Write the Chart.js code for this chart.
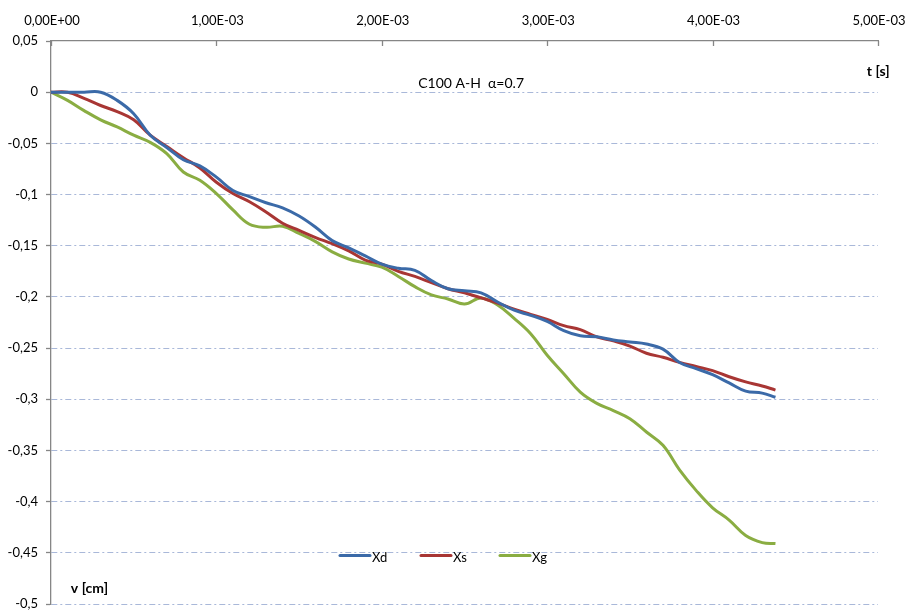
<!DOCTYPE html>
<html>
<head>
<meta charset="utf-8">
<script src="https://cdn.jsdelivr.net/npm/chart.js@4/dist/chart.umd.min.js"></script>
<style>
  html, body { margin: 0; padding: 0; background: #ffffff; }
  #wrap { width: 908px; height: 610px; }
</style>
</head>
<body>
<div id="wrap"><canvas id="c" width="908" height="610"></canvas></div>
<script>
// time samples [s]
const times = [
  0, 0.0001, 0.0002, 0.0003, 0.0004, 0.0005, 0.0006, 0.0007, 0.0008, 0.0009,
  0.0010, 0.0011, 0.0012, 0.0013, 0.0014, 0.0015, 0.0016, 0.0017, 0.0018, 0.0019,
  0.0020, 0.0021, 0.0022, 0.0023, 0.0024, 0.0025, 0.0026, 0.0027, 0.0028, 0.0029,
  0.0030, 0.0031, 0.0032, 0.0033, 0.0034, 0.0035, 0.0036, 0.0037, 0.0038, 0.0039,
  0.0040, 0.0041, 0.0042, 0.0043, 0.00438
];

// displacement v [cm]
const xd = [
  0, 0, 0, 0, -0.008, -0.021, -0.042, -0.054, -0.066, -0.072,
  -0.083, -0.096, -0.102, -0.108, -0.113, -0.121, -0.132, -0.145, -0.152, -0.160,
  -0.168, -0.172, -0.174, -0.184, -0.192, -0.194, -0.196, -0.205, -0.213, -0.218,
  -0.224, -0.233, -0.238, -0.239, -0.242, -0.244, -0.246, -0.251, -0.264, -0.270,
  -0.276, -0.284, -0.292, -0.294, -0.298
];
const xs = [
  0, 0, -0.006, -0.013, -0.019, -0.027, -0.042, -0.053, -0.064, -0.074,
  -0.088, -0.099, -0.107, -0.117, -0.128, -0.135, -0.142, -0.148, -0.155, -0.164,
  -0.168, -0.175, -0.180, -0.186, -0.192, -0.196, -0.201, -0.206, -0.212, -0.217,
  -0.222, -0.228, -0.232, -0.239, -0.243, -0.248, -0.255, -0.259, -0.264, -0.268,
  -0.272, -0.278, -0.283, -0.287, -0.291
];
const xg = [
  0, -0.008, -0.018, -0.027, -0.034, -0.042, -0.049, -0.060, -0.078, -0.086,
  -0.099, -0.115, -0.129, -0.132, -0.131, -0.138, -0.146, -0.156, -0.163, -0.167,
  -0.171, -0.180, -0.190, -0.198, -0.202, -0.207, -0.201, -0.208, -0.221, -0.236,
  -0.257, -0.275, -0.293, -0.304, -0.311, -0.319, -0.332, -0.345, -0.369, -0.389,
  -0.406, -0.418, -0.433, -0.440, -0.441
];

const seriesNames = ['Xd', 'Xs', 'Xg'];
const seriesColors = ['#3b6aa8', '#a83634', '#8aad42'];
const seriesValues = [xd, xs, xg];

const titleText = 'C100 A-H  \u03b1=0.7';
const xAxisName = 't [s]';
const yAxisName = 'v [cm]';

const FONT = 'Lato, "Open Sans", sans-serif';
const FONT_SIZE = 13;
const AXIS_GRAY = '#868686';

function fmtExp(v) {
  const s = Number(v).toExponential(2);       // e.g. "1.00e-3"
  const [m, e] = s.split('e');
  const ei = parseInt(e, 10);
  const sign = ei < 0 ? '-' : '+';
  const ed = String(Math.abs(ei)).padStart(2, '0');
  return m.replace('.', ',') + 'E' + sign + ed;
}
function fmtDec(v) {
  const r = Math.round(v * 100) / 100;
  if (r === 0) return '0';
  return String(r).replace('.', ',');
}

// time-axis labels and inward ticks, text inside the plot, legend at the bottom
const decorations = {
  id: 'decorations',
  afterDraw(chart) {
    const ctx = chart.ctx;
    const sx = chart.scales.x;
    const sy = chart.scales.y;
    ctx.save();

    const top = sy.getPixelForValue(0.05);
    ctx.strokeStyle = AXIS_GRAY;
    ctx.lineWidth = 1.3;
    ctx.fillStyle = '#000';
    ctx.font = FONT_SIZE + 'px ' + FONT;
    ctx.textAlign = 'center';
    ctx.textBaseline = 'middle';
    sx.ticks.forEach(t => {
      const px = sx.getPixelForValue(t.value);
      const pxr = Math.round(px) + 0.5;
      ctx.beginPath();
      ctx.moveTo(pxr, top);
      ctx.lineTo(pxr, top + 5);
      ctx.stroke();
      ctx.fillText(fmtExp(t.value), px + 1, top - 20);
    });

    // title
    ctx.font = '14px ' + FONT;
    ctx.textAlign = 'center';
    ctx.fillText(titleText, sx.getPixelForValue(0.00254), sy.getPixelForValue(0.0085));

    // axis names
    ctx.font = 'bold 14px ' + FONT;
    ctx.textAlign = 'right';
    ctx.fillText(xAxisName, sx.getPixelForValue(0.00507), sy.getPixelForValue(0.0205));
    ctx.textAlign = 'left';
    ctx.fillText(yAxisName, sx.getPixelForValue(0.00012), sy.getPixelForValue(-0.485));

    // legend
    const legendY = sy.getPixelForValue(-0.4525);
    const legendX = [340, 421, 500];
    ctx.font = FONT_SIZE + 'px ' + FONT;
    ctx.lineCap = 'round';
    seriesNames.forEach((name, i) => {
      const x0 = legendX[i];
      ctx.strokeStyle = seriesColors[i];
      ctx.lineWidth = 3;
      ctx.beginPath();
      ctx.moveTo(x0, legendY);
      ctx.lineTo(x0 + 30, legendY);
      ctx.stroke();
      ctx.fillStyle = '#000';
      ctx.textAlign = 'left';
      ctx.fillText(name, x0 + 32, legendY + 2);
    });
    ctx.restore();
  }
};

const datasets = seriesNames.map((name, i) => ({
  label: name,
  data: times.map((t, k) => ({ x: t, y: seriesValues[i][k] })),
  borderColor: seriesColors[i],
  backgroundColor: seriesColors[i],
  borderWidth: 3,
  pointRadius: 0,
  tension: 0.4,
  fill: false
}));

new Chart(document.getElementById('c'), {
  type: 'line',
  data: { datasets },
  plugins: [decorations],
  options: {
    responsive: false,
    animation: false,
    layout: { padding: { left: 0, right: 30, top: 0, bottom: 6 } },
    plugins: { legend: { display: false }, tooltip: { enabled: false } },
    scales: {
      x: {
        type: 'linear',
        position: 'top',
        min: 0,
        max: 0.005,
        ticks: { stepSize: 0.001, display: false },
        grid: { drawOnChartArea: false, drawTicks: false },
        border: { color: AXIS_GRAY, width: 1.3 },
        afterFit: s => { s.height = 41; s.paddingLeft = 0; s.paddingRight = 0; }
      },
      y: {
        min: -0.5,
        max: 0.05,
        ticks: {
          stepSize: 0.05,
          callback: v => fmtDec(v),
          color: '#000',
          font: { family: FONT, size: FONT_SIZE },
          padding: 8
        },
        grid: {
          color: c => (c.tick && Math.abs(c.tick.value - 0.05) < 1e-9) ? 'rgba(0,0,0,0)' : '#a9b8d9',
          lineWidth: 1,
          tickLength: 5,
          tickColor: AXIS_GRAY,
          tickBorderDash: [],
          tickWidth: 1.3
        },
        border: { color: AXIS_GRAY, width: 1.3, dash: [6, 3, 2, 3] },
        afterFit: s => { s.width = 51; s.paddingTop = 0; s.paddingBottom = 0; }
      }
    }
  }
});
</script>
</body>
</html>
